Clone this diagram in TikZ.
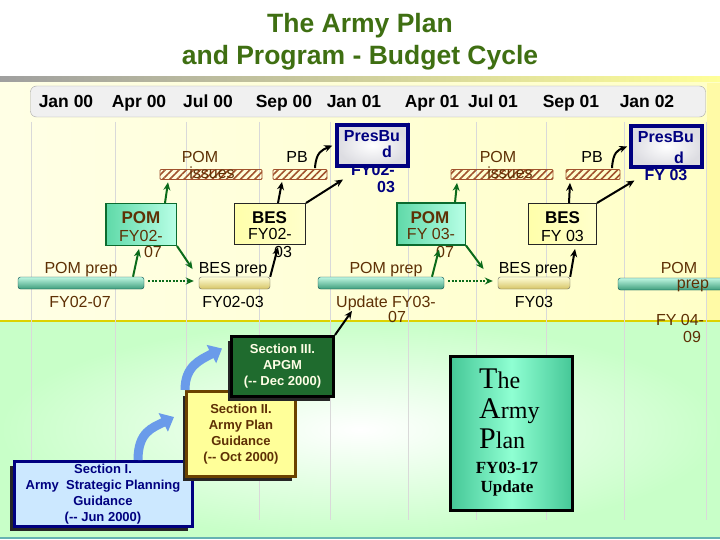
\documentclass[tikz,border=0pt]{standalone}
\usepackage{fontspec}
\setmainfont{Liberation Sans}
\newfontfamily\planfont{Liberation Serif}
\usepackage{tikz}
\usetikzlibrary{shapes.geometric, arrows, arrows.meta, patterns.meta, shadows}

\definecolor{titlegreen}{HTML}{3F6F12}
\definecolor{pombrown}{HTML}{5E3005}
\definecolor{navyblue}{HTML}{000080}
\definecolor{hatchred}{HTML}{A0522D}
\definecolor{aquaA}{HTML}{5FD9A8}
\definecolor{aquaB}{HTML}{B8FFE6}
\definecolor{pomedge}{HTML}{0B6B2E}
\definecolor{arrowgreen}{HTML}{0B6B1A}
\definecolor{besyellow}{HTML}{FFFFAA}
\definecolor{tubehi}{HTML}{BFF7E2}
\definecolor{tubelo}{HTML}{3E9E7C}
\definecolor{bestubehi}{HTML}{FFFFD8}
\definecolor{bestubelo}{HTML}{D6C466}
\definecolor{secIfill}{HTML}{CCE8FF}
\definecolor{secIIfill}{HTML}{FFFF99}
\definecolor{secIIedge}{HTML}{6B4200}
\definecolor{secIIIfill}{HTML}{1F6B2E}
\definecolor{bluearrow}{HTML}{6A9BEA}
\definecolor{lowgreen}{HTML}{C8FFC8}
\definecolor{planedge}{HTML}{45C797}
\definecolor{planmid}{HTML}{8FFFD2}

\tikzstyle{month} = [anchor=base, inner sep=0pt, font=\fontsize{17.5}{20}\selectfont\bfseries]
\tikzstyle{txt} = [anchor=base, inner sep=0pt, font=\fontsize{16}{18}\selectfont]
\tikzstyle{pomtxt} = [txt, text=pombrown]
\tikzstyle{boxtitle} = [txt, font=\fontsize{17}{18}\selectfont\bfseries]
\tikzstyle{pres} = [txt, text=navyblue, font=\fontsize{16}{18}\selectfont\bfseries]
\tikzstyle{gridline} = [gray!30, line width=0.6pt]
\tikzstyle{hatchbar} = [draw=hatchred, line width=0.8pt, rounded corners=1pt,
    pattern={Lines[angle=45,distance=5pt,line width=1.6pt]}, pattern color=hatchred,
    minimum height=10pt, inner sep=0pt]
\tikzstyle{pomtube} = [draw=teal!60!black, top color=tubehi, bottom color=tubelo,
    rounded corners=2.5pt, minimum height=12pt, inner sep=0pt]
\tikzstyle{bestube} = [draw=black!60, top color=bestubehi, bottom color=bestubelo,
    rounded corners=2.5pt, minimum height=12pt, inner sep=0pt]
\tikzstyle{pombox} = [draw=pomedge, line width=1.5pt, left color=aquaA, right color=aquaB,
    minimum width=70.5pt, minimum height=41.5pt, inner sep=0pt]
\tikzstyle{besbox} = [draw=black!85, line width=1pt, left color=besyellow, right color=besyellow!60!white,
    minimum width=71pt, minimum height=41pt, inner sep=0pt]
\tikzstyle{presbox} = [draw=navyblue, line width=3.5pt, inner color=white, outer color=blue!8!gray!25,
    minimum width=71pt, minimum height=41pt, inner sep=0pt]
\tikzstyle{secbox} = [line width=3pt, align=center, inner sep=0pt,
    font=\fontsize{13}{16}\selectfont\bfseries,
    drop shadow={shadow xshift=-4pt, shadow yshift=-4pt, opacity=1, fill=black!85}]
\tikzstyle{arrow} = [line width=2pt,->,>={Stealth[length=8pt,width=7pt]}]
\tikzstyle{garrow} = [arrow, draw=arrowgreen]
\tikzstyle{dotarrow} = [garrow, dash pattern=on 2pt off 1.5pt]
\tikzstyle{stepup} = [draw=bluearrow, line width=9pt, -{Triangle[width=20pt,length=12pt]}]

\begin{document}
\begin{tikzpicture}[x=1pt, y=-1pt]
\useasboundingbox (0,0) rectangle (720,540);

% Background
\fill[white] (0,0) rectangle (720,540);
\shade[left color=gray!75, right color=yellow!40] (0,77) rectangle (720,83);
\shade[left color=yellow!10, right color=yellow!22] (0,83) rectangle (720,321);
\fill[yellow!35] (707,83) rectangle (720,321);
\shade[inner color=white, outer color=lowgreen] (0,321) rectangle (720,538);
\draw[yellow!70!olive, line width=1.5pt] (0,321) -- (720,321);
\draw[teal!60, line width=1.5pt] (0,538) -- (720,538);

% Title
\node (title1) [anchor=base, text=titlegreen, font=\fontsize{26.5}{30}\selectfont\bfseries] at (360,33) {The Army Plan};
\node (title2) [anchor=base, text=titlegreen, font=\fontsize{26.5}{30}\selectfont\bfseries] at (360,65) {and Program - Budget Cycle};

% Time line
\foreach \x in {31,115,186,259,330,408,476,546,624,706}
    \draw[gridline] (\x,122) -- (\x,520);
\node (hdr) [draw=gray!70, fill=gray!12, rounded corners=6pt, minimum width=675pt, minimum height=31pt] at (368,101.5) {};
\foreach \x/\m [count=\i] in {66/Jan 00, 139/Apr 00, 208/Jul 00, 284/Sep 00, 354/Jan 01,
        432/Apr 01, 493/Jul 01, 571/Sep 01, 647/Jan 02}
    \node (m\i) [month] at (\x,108) {\m};

% Issues and PB bars
\node (issA) [hatchbar, minimum width=102pt] at (211,174.5) {};
\node (pbA) [hatchbar, minimum width=54pt] at (300,174.5) {};
\node (issB) [hatchbar, minimum width=102pt] at (502,174.5) {};
\node (pbB) [hatchbar, minimum width=54pt] at (593,174.5) {};
\node (issAlbl) [pomtxt] at (200,163) {POM};
\node (issAtxt) [pomtxt] at (212,179) {issues};
\node (pbAlbl) [txt] at (297,163) {PB};
\node (issBlbl) [pomtxt] at (498,163) {POM};
\node (issBtxt) [pomtxt] at (510,179) {issues};
\node (pbBlbl) [txt] at (592,163) {PB};

% President's budget
\node (fyA) [pres] at (373,176) {FY02-};
\node (fyA2) [pres] at (386,193) {03};
\node (presA) [presbox] at (372.5,145.5) {};
\node (presAt) [pres] at (372,142) {PresBu};
\node (presAd) [pres] at (387,158) {d};
\node (fyB) [pres] at (666,181) {FY 03};
\node (presB) [presbox] at (666.5,146.5) {};
\node (presBt) [pres] at (666,143) {PresBu};
\node (presBd) [pres] at (679,164) {d};

% Prep tubes
\node (tubeA) [pomtube, minimum width=126pt] at (81,283) {};
\node (btubeA) [bestube, minimum width=71pt] at (234.5,283) {};
\node (tubeB) [pomtube, minimum width=126pt] at (381,283) {};
\node (btubeB) [bestube, minimum width=72pt] at (534,283) {};
\node (tubeC) [pomtube, minimum width=106pt] at (671,284) {};
\node (pprepA) [pomtxt] at (81,273) {POM prep};
\node (fyprepA) [pomtxt] at (80,307) {FY02-07};
\node (bprepA) [txt] at (233,273) {BES prep};
\node (fybesA) [txt] at (233,307) {FY02-03};
\node (pprepB) [pomtxt] at (386,273) {POM prep};
\node (updB) [pomtxt] at (386,307) {Update FY03-};
\node (updB2) [pomtxt] at (397,322) {07};
\node (bprepB) [txt] at (533,273) {BES prep};
\node (fybesB) [txt] at (534,307) {FY03};
\node (pprepC) [pomtxt] at (679,273) {POM};
\node (pprepC2) [pomtxt] at (693,288) {prep};
\node (fyprepC) [pomtxt] at (680,325) {FY 04-};
\node (fyprepC2) [pomtxt] at (692,342) {09};

% POM and BES boxes
\node (pomA) [pombox] at (141,224.5) {};
\node (pomAt) [boxtitle, text=pombrown] at (141,224) {POM};
\node (pomAf) [pomtxt] at (141,241) {FY02-};
\node (pomAf2) [pomtxt] at (153,258) {07};
\node (besA) [besbox] at (270,224) {};
\node (besAt) [boxtitle] at (269.5,223) {BES};
\node (besAf) [txt] at (270,240) {FY02-};
\node (besAf2) [txt] at (283,257) {03};
\node (pomB) [pombox, minimum width=68.5pt] at (431,224) {};
\node (pomBt) [boxtitle, text=pombrown] at (430,223) {POM};
\node (pomBf) [pomtxt] at (431,240) {FY 03-};
\node (pomBf2) [pomtxt] at (445,257) {07};
\node (besB) [besbox, minimum width=68pt] at (562.5,224) {};
\node (besBt) [boxtitle] at (562.5,223) {BES};
\node (besBf) [txt] at (562.5,241) {FY 03};

% Arrows, first cycle
\draw [garrow] ([xshift=52pt]tubeA.north) -- ([xshift=-2pt,yshift=-3pt]pomA.south);
\draw [garrow] (pomA.south east) -- ([xshift=-6pt]bprepA.west);
\draw [garrow] ([xshift=24pt]pomA.north) -- ([xshift=-43pt,yshift=-2pt]issA.south);
\draw [dotarrow] ([xshift=4pt,yshift=2pt]tubeA.east) -- ([xshift=-5pt,yshift=2pt]btubeA.west);
\draw [arrow] (btubeA.north east) -- ([xshift=8pt,yshift=-2pt]besA.south);
\draw [arrow] ([xshift=8pt]besA.north) -- ([xshift=-18pt,yshift=-2pt]pbA.south);
\draw [arrow] (besA.north east) -- ([xshift=-8pt,yshift=-9pt]fyA.west);
\draw [arrow] ([xshift=15pt,yshift=1pt]pbA.north) .. controls (316,152) and (322,150) .. ([xshift=-3pt]presA.west);

% Arrows, second cycle
\draw [garrow] ([xshift=51pt]tubeB.north) -- ([xshift=8pt,yshift=-4pt]pomB.south);
\draw [garrow] (pomB.south east) -- ([xshift=-15pt]bprepB.west);
\draw [garrow] ([xshift=24pt]pomB.north) -- ([xshift=-45pt,yshift=-3pt]issB.south);
\draw [dotarrow] ([xshift=4pt,yshift=2pt]tubeB.east) -- ([xshift=-5pt,yshift=2pt]btubeB.west);
\draw [arrow] (btubeB.north east) -- ([xshift=12.5pt,yshift=-4pt]besB.south);
\draw [arrow] ([xshift=6.5pt]besB.north) -- ([xshift=-23pt,yshift=-3pt]pbB.south);
\draw [arrow] (besB.north east) -- ([xshift=-10pt,yshift=-5pt]fyB.west);
\draw [arrow] ([xshift=19pt,yshift=1pt]pbB.north) .. controls (613,152) and (618,150) .. ([xshift=-2pt]presB.west);

% Guidance sections
\node (secI) [secbox, draw=navyblue, fill=secIfill, text=navyblue, minimum width=178pt, minimum height=65pt]
    at (103,494) {Section I.\\Army~~Strategic Planning\\Guidance\\(-{}- Jun 2000)};
\node (secII) [secbox, draw=secIIedge, fill=secIIfill, text=pombrown, minimum width=109pt, minimum height=85pt]
    at (241,434) {Section II.\\Army Plan\\Guidance\\(-{}- Oct 2000)};
\node (secIII) [secbox, draw=black, fill=secIIIfill, text=white!90!yellow, minimum width=102pt, minimum height=60pt]
    at (282.5,366.5) {Section III.\\APGM\\(-{}- Dec 2000)};
\draw [stepup] ([xshift=35pt]secI.north) .. controls (138,432) and (152,428) .. ([xshift=-11pt,yshift=17pt]secII.west);
\draw [stepup] ([xshift=-56pt]secII.north) .. controls (185,366) and (200,360) .. ([xshift=-8pt,yshift=18pt]secIII.west);
\draw [arrow] (secIII.north east) -- ([xshift=16pt,yshift=-8pt]updB.west);

% The Army Plan
\node (plan) [draw=black, line width=3pt, left color=planedge, right color=planedge, middle color=planmid,
    minimum width=122pt, minimum height=154pt] at (511.5,433.5) {};
\node (planT) [anchor=base west, inner sep=0pt, font=\planfont] at (479,388)
    {\fontsize{30}{30}\selectfont T\fontsize{24}{30}\selectfont he};
\node (planA) [anchor=base west, inner sep=0pt, font=\planfont] at (479,418)
    {\fontsize{30}{30}\selectfont A\fontsize{24}{30}\selectfont rmy};
\node (planP) [anchor=base west, inner sep=0pt, font=\planfont] at (479,448)
    {\fontsize{30}{30}\selectfont P\fontsize{24}{30}\selectfont lan};
\node (planFY) [anchor=base, inner sep=0pt, font=\planfont\bfseries\fontsize{17}{20}\selectfont] at (507,473) {FY03-17};
\node (planUp) [anchor=base, inner sep=0pt, font=\planfont\bfseries\fontsize{17}{20}\selectfont] at (507,492) {Update};

\end{tikzpicture}
\end{document}
